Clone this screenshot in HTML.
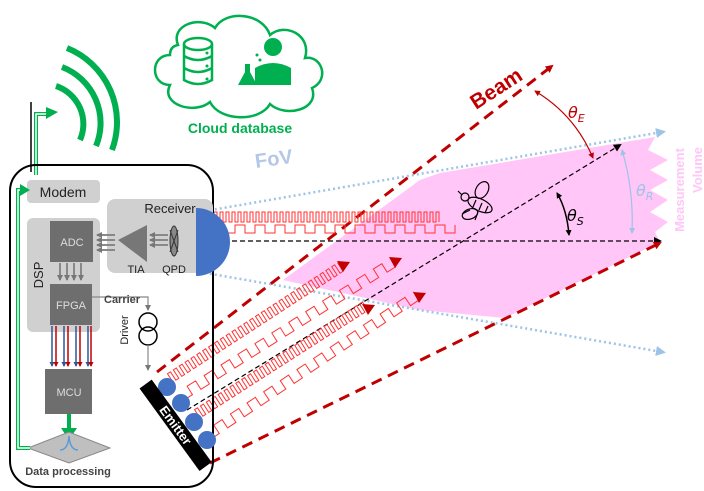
<!DOCTYPE html>
<html><head><meta charset="utf-8"><style>
html,body{margin:0;padding:0;background:#fff;}
svg{display:block;font-family:"Liberation Sans",sans-serif;}
</style></head><body>
<svg id="s" width="704" height="491" viewBox="0 0 704 491" xmlns="http://www.w3.org/2000/svg">
<defs>
<marker id="ar" markerWidth="8" markerHeight="8" refX="6" refY="4" orient="auto" markerUnits="userSpaceOnUse"><path d="M0,0 L8,4 L0,8z" fill="#c00000"/></marker>
<marker id="ab" markerWidth="8" markerHeight="8" refX="6" refY="4" orient="auto" markerUnits="userSpaceOnUse"><path d="M0,0 L8,4 L0,8z" fill="#000"/></marker>
<marker id="al" markerWidth="10" markerHeight="10" refX="6" refY="5" orient="auto" markerUnits="userSpaceOnUse"><path d="M0,0 L10,5 L0,10z" fill="#9dc3e6"/></marker>
<marker id="ak" markerWidth="6" markerHeight="6" refX="5" refY="3" orient="auto-start-reverse" markerUnits="userSpaceOnUse"><path d="M0,0 L6,3 L0,6z" fill="#000"/></marker>
<marker id="akr" markerWidth="6" markerHeight="6" refX="5" refY="3" orient="auto-start-reverse" markerUnits="userSpaceOnUse"><path d="M0,0 L6,3 L0,6z" fill="#c00000"/></marker>
<marker id="akl" markerWidth="6" markerHeight="6" refX="5" refY="3" orient="auto-start-reverse" markerUnits="userSpaceOnUse"><path d="M0,0 L6,3 L0,6z" fill="#9dc3e6"/></marker>
<marker id="agr" markerWidth="6" markerHeight="6" refX="5" refY="3" orient="auto" markerUnits="userSpaceOnUse"><path d="M0,0 L6,3 L0,6z" fill="#777"/></marker>
<marker id="arb" markerWidth="5" markerHeight="5" refX="4" refY="2.5" orient="auto" markerUnits="userSpaceOnUse"><path d="M0,0 L5,2.5 L0,5z" fill="#c00000"/></marker>
<marker id="abb" markerWidth="5" markerHeight="5" refX="4" refY="2.5" orient="auto" markerUnits="userSpaceOnUse"><path d="M0,0 L5,2.5 L0,5z" fill="#2f5597"/></marker>
</defs>

<polygon points="283,280 420,180 440,173 655,137 648,150 668,160 650,170 668,180 650,190 668,200 650,212 668,222 655,232 660,242 505,318 420,310" fill="#ffc6f7"/>

<line x1="200" y1="212" x2="662" y2="132" stroke="#9dc3e6" stroke-width="2.5" stroke-dasharray="2 3" marker-end="url(#al)"/>
<line x1="200" y1="272" x2="662" y2="352" stroke="#9dc3e6" stroke-width="2.5" stroke-dasharray="2 3" marker-end="url(#al)"/>

<line x1="200" y1="241" x2="660" y2="241" stroke="#000" stroke-width="1.2" stroke-dasharray="5 3" marker-end="url(#ab)"/>
<line x1="187" y1="410" x2="620" y2="145" stroke="#000" stroke-width="1.2" stroke-dasharray="5 3" marker-end="url(#ab)"/>

<line x1="157" y1="372" x2="552" y2="66" stroke="#c00000" stroke-width="3" stroke-dasharray="11 7" marker-end="url(#ar)"/>
<line x1="210" y1="463" x2="660" y2="243" stroke="#c00000" stroke-width="3" stroke-dasharray="11 7" marker-end="url(#ar)"/>

<g id="waves" fill="none" stroke="#ff3333" stroke-width="1"></g>

<polygon points="196,218 205,213 205,223" fill="#c00000"/>
<polygon points="196,229 205,224 205,234" fill="#c00000"/>
<polygon points="350,262 337,261 343,272" fill="#c00000"/>
<polygon points="402,258 389,257 395,268" fill="#c00000"/>
<polygon points="375,305 362,304 368,315" fill="#c00000"/>
<polygon points="426,293 413,292 419,303" fill="#c00000"/>

<path d="M535,91 Q575,115 593,158" fill="none" stroke="#c00000" stroke-width="1.2" marker-start="url(#akr)" marker-end="url(#akr)"/>
<path d="M557,193 Q567,210 569,235" fill="none" stroke="#000" stroke-width="1.5" marker-start="url(#ak)" marker-end="url(#ak)"/>
<path d="M622,150 Q634,190 632,233" fill="none" stroke="#9dc3e6" stroke-width="1.2" marker-start="url(#akl)" marker-end="url(#akl)"/>

<text x="0" y="0" transform="translate(476,110) rotate(-33)" fill="#c00000" font-size="21" font-weight="bold">Beam</text>
<text x="568" y="118" fill="#c00000" font-size="16" font-style="italic" font-family="DejaVu Sans">θ<tspan font-size="11" dy="4">E</tspan></text>
<text x="567" y="221" fill="#000" font-size="16" font-style="italic" font-family="DejaVu Sans">θ<tspan font-size="11" dy="4">S</tspan></text>
<text x="636" y="196" fill="#9dc3e6" font-size="16" font-style="italic" font-family="DejaVu Sans">θ<tspan font-size="11" dy="4">R</tspan></text>
<text x="0" y="0" transform="translate(256,168) rotate(-8)" fill="#b4c7e7" font-size="20" font-weight="bold">FoV</text>
<text transform="translate(684,190) rotate(-90)" text-anchor="middle" fill="#ffc6f7" font-size="13" font-weight="bold">Measurement</text>
<text transform="translate(702,170) rotate(-90)" text-anchor="middle" fill="#ffc6f7" font-size="13" font-weight="bold">Volume</text>

<g fill="none" stroke="#000" stroke-width="1.2">
<ellipse cx="480" cy="205" rx="13" ry="6" transform="rotate(25 480 205)"/>
<circle cx="465" cy="197" r="4"/>
<ellipse cx="470" cy="214" rx="8" ry="5" transform="rotate(-20 470 214)"/>
<ellipse cx="482" cy="190" rx="6" ry="9" transform="rotate(30 482 190)"/>
<path d="M476,200 l-3,7 M482,203 l-3,7 M488,206 l-3,7 M462,195 l-4,-4 M470,210 l-8,4 M478,212 l-3,8"/>
</g>

<g fill="none" stroke="#00b050" stroke-width="6">
<path d="M56,86 A40,40 0 0 1 80,140"/>
<path d="M62,67 A60,60 0 0 1 96,146"/>
<path d="M67,48 A80,80 0 0 1 112,150"/>
</g>
<line x1="31" y1="102" x2="31" y2="172" stroke="#000" stroke-width="1.5"/>
<path d="M36,175 V114 H48" fill="none" stroke="#00b050" stroke-width="4"/>
<path d="M36,175 V114 H48" fill="none" stroke="#fff" stroke-width="1.5"/>
<polygon points="46,107 58,112 46,119" fill="#00b050"/>

<path d="M170,55 C150,55 150,85 170,85 C160,105 195,115 210,102 C220,122 260,122 270,104 C285,118 320,110 312,88 C330,80 322,55 305,58 C312,35 285,22 270,35 C262,12 225,10 215,28 C200,15 170,25 178,45 C172,46 170,50 170,55 Z" fill="#fff" stroke="#00b050" stroke-width="2.5"/>
<g fill="none" stroke="#00b050" stroke-width="2.5">
<ellipse cx="198" cy="44" rx="14" ry="6"/>
<path d="M184,44 V80 Q198,88 212,80 V44 M184,56 Q198,64 212,56 M184,68 Q198,76 212,68"/>
</g>
<circle cx="207" cy="53" r="1.5" fill="#00b050"/><circle cx="207" cy="66" r="1.5" fill="#00b050"/><circle cx="207" cy="79" r="1.5" fill="#00b050"/>
<circle cx="273" cy="47" r="9" fill="#00b050"/>
<path d="M255,85 V68 Q273,58 291,68 V85 Z" fill="#00b050"/>
<path d="M238,85 L245,72 V64 H250 V72 L257,85 Z" fill="#00b050"/>
<circle cx="257" cy="55" r="1.5" fill="#00b050"/><circle cx="260" cy="60" r="1.5" fill="#00b050"/>
<text x="240" y="133" text-anchor="middle" fill="#00b050" font-size="14" font-weight="bold">Cloud database</text>

<rect x="10" y="165" width="203" height="322" rx="26" fill="none" stroke="#000" stroke-width="2"/>
<rect x="27" y="180" width="73" height="23" rx="4" fill="#d0d0d0"/>
<text x="63" y="197" text-anchor="middle" font-size="14" fill="#222">Modem</text>
<rect x="27" y="218" width="73" height="114" rx="6" fill="#d0d0d0"/>
<rect x="107" y="199" width="106" height="74" rx="8" fill="#d0d0d0"/>
<text x="170" y="213" text-anchor="middle" font-size="13" fill="#222">Receiver</text>
<text transform="translate(43,275) rotate(-90)" text-anchor="middle" font-size="13" fill="#222">DSP</text>
<rect x="50" y="221" width="43" height="41" fill="#6e6e6e"/>
<text x="72" y="246" text-anchor="middle" font-size="11" fill="#ddd">ADC</text>
<rect x="50" y="284" width="42" height="41" fill="#6e6e6e"/>
<text x="71" y="309" text-anchor="middle" font-size="11" fill="#ddd">FPGA</text>
<rect x="45" y="369" width="47" height="45" fill="#6e6e6e"/>
<text x="69" y="396" text-anchor="middle" font-size="11" fill="#ddd">MCU</text>
<g stroke="#888" stroke-width="2">
<line x1="60" y1="263" x2="60" y2="280" marker-end="url(#agr)"/><line x1="67" y1="263" x2="67" y2="280" marker-end="url(#agr)"/>
<line x1="74" y1="263" x2="74" y2="280" marker-end="url(#agr)"/><line x1="81" y1="263" x2="81" y2="280" marker-end="url(#agr)"/>
<line x1="115" y1="235" x2="97" y2="235" marker-end="url(#agr)"/><line x1="115" y1="240" x2="97" y2="240" marker-end="url(#agr)"/>
<line x1="115" y1="245" x2="97" y2="245" marker-end="url(#agr)"/><line x1="115" y1="250" x2="97" y2="250" marker-end="url(#agr)"/>
<line x1="168" y1="235" x2="150" y2="235" marker-end="url(#agr)"/><line x1="168" y1="240" x2="150" y2="240" marker-end="url(#agr)"/>
<line x1="168" y1="245" x2="150" y2="245" marker-end="url(#agr)"/>
</g>
<polygon points="118,240 147,225 147,262" fill="#777"/>
<text x="136" y="273" text-anchor="middle" font-size="11" fill="#222">TIA</text>
<ellipse cx="174" cy="241" rx="4" ry="15" fill="#888" stroke="#333"/>
<path d="M170,230 L178,252 M178,230 L170,252" stroke="#333"/>
<text x="174" y="273" text-anchor="middle" font-size="11" fill="#222">QPD</text>
<path d="M196,208 A34,34 0 0 1 196,276 Z" fill="#4472c4"/>
<g stroke-width="1.5">
<line x1="52" y1="326" x2="52" y2="366" stroke="#2f5597" marker-end="url(#abb)"/><line x1="56" y1="326" x2="56" y2="366" stroke="#c00000" marker-end="url(#arb)"/>
<line x1="64" y1="326" x2="64" y2="366" stroke="#2f5597" marker-end="url(#abb)"/><line x1="68" y1="326" x2="68" y2="366" stroke="#c00000" marker-end="url(#arb)"/>
<line x1="76" y1="326" x2="76" y2="366" stroke="#2f5597" marker-end="url(#abb)"/><line x1="80" y1="326" x2="80" y2="366" stroke="#c00000" marker-end="url(#arb)"/>
<line x1="88" y1="326" x2="88" y2="366" stroke="#2f5597" marker-end="url(#abb)"/><line x1="91" y1="326" x2="91" y2="366" stroke="#c00000" marker-end="url(#arb)"/>
</g>
<path d="M92,297 H148 V310" fill="none" stroke="#888" stroke-width="1.2" marker-end="url(#agr)"/>
<text x="104" y="303" font-size="11" font-weight="bold" fill="#444">Carrier</text>
<circle cx="148" cy="322" r="9" fill="none" stroke="#000" stroke-width="1.5"/>
<circle cx="148" cy="336" r="9" fill="none" stroke="#000" stroke-width="1.5"/>
<line x1="148" y1="345" x2="148" y2="370" stroke="#888" stroke-width="1.2" marker-end="url(#agr)"/>
<text transform="translate(128,330) rotate(-90)" text-anchor="middle" font-size="11" fill="#222">Driver</text>
<g fill="#4472c4">
<circle cx="167" cy="387" r="9"/><circle cx="181" cy="403" r="9"/><circle cx="194" cy="422" r="9"/><circle cx="207" cy="440" r="9"/>
</g>
<g transform="translate(176,425) rotate(54)"><rect x="-51" y="-7" width="102" height="15" fill="#000"/>
<text x="0" y="5" text-anchor="middle" fill="#fff" font-size="13" font-weight="bold">Emitter</text></g>
<line x1="69" y1="414" x2="69" y2="430" stroke="#00b050" stroke-width="4"/>
<polygon points="61,428 69,440 77,428" fill="#00b050"/>
<polygon points="28,448 69,432 110,448 69,463" fill="#bfbfbf" stroke="#888"/>
<path d="M60,450 Q68,450 69,436 Q70,450 78,450" fill="none" stroke="#5b9bd5" stroke-width="1.5"/>
<text x="68" y="475" text-anchor="middle" font-size="11" font-weight="bold" fill="#444">Data processing</text>
<path d="M30,448 H18 V190 H22" fill="none" stroke="#00b050" stroke-width="4"/>
<path d="M30,448 H18 V190 H22" fill="none" stroke="#fff" stroke-width="1.5"/>
<polygon points="20,184 30,190 20,196" fill="#00b050"/>
</svg>
<script>
function wave(x0,y0,x1,y1,per,amp){
  var dx=x1-x0,dy=y1-y0,L=Math.hypot(dx,dy),a=Math.atan2(dy,dx)*180/Math.PI;
  var d="M0,0",h=per/2,t=0,up=true;
  while(t+h<=L){d+=" h"+h+" v"+(up?-amp:amp);up=!up;t+=h;}
  var p=document.createElementNS("http://www.w3.org/2000/svg","path");
  p.setAttribute("d",d);p.setAttribute("transform","translate("+x0+","+y0+") rotate("+a+")");
  document.getElementById("waves").appendChild(p);
}
wave(205,222,440,222,6,10);
wave(205,233,455,233,20,8);
wave(170,384,345,270,7,10);
wave(184,400,397,266,20,10);
wave(197,420,370,309,7,10);
wave(211,439,422,298,20,10);
</script>
</body></html>
